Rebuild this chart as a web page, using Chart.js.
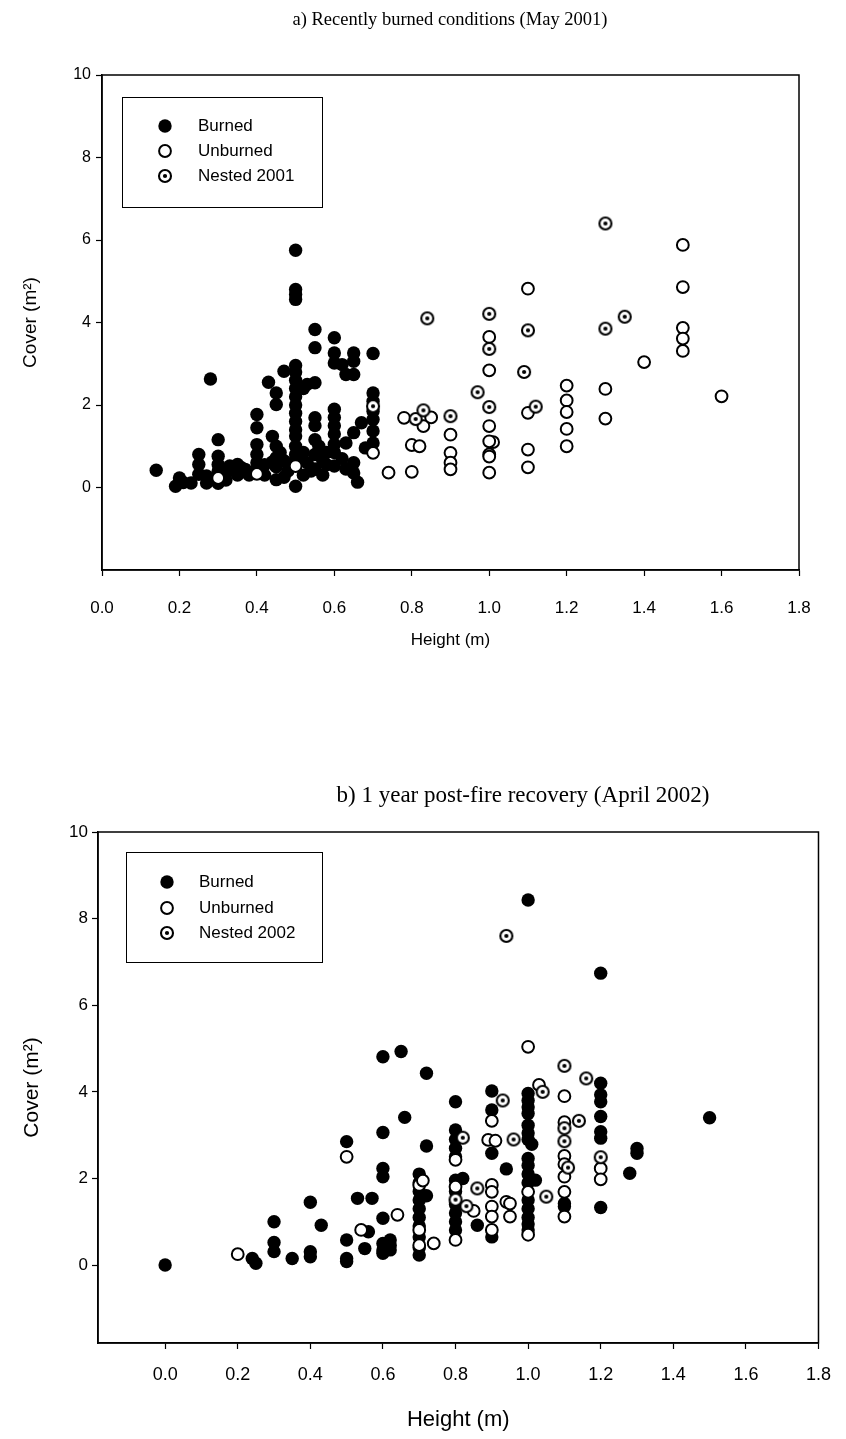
<!DOCTYPE html>
<html lang="en">
<head>
  <meta charset="UTF-8">
  <title>Cover vs height, burned and unburned plants</title>
  <script src="https://cdn.jsdelivr.net/npm/chart.js"></script>
  <style>
    body { margin: 0; background: #fff; }
    canvas { position: absolute; left: 0; }
    #chartA { top: 0; }
    #chartB { top: 690px; }
  </style>
</head>
<body>
  <canvas id="chartA" width="846" height="690"></canvas>
  <canvas id="chartB" width="846" height="749"></canvas>

  <script>
    // ---- data: [height (m), cover (m2)] ----
    const burned2001 = [
      [0.14,0.42],[0.19,0.03],[0.20,0.23],[0.21,0.12],[0.23,0.11],
      [0.25,0.32],[0.25,0.56],[0.25,0.80],[0.27,0.11],[0.27,0.28],[0.28,2.63],
      [0.30,1.16],[0.30,0.76],[0.30,0.56],[0.30,0.40],[0.30,0.10],
      [0.32,0.36],[0.32,0.18],[0.33,0.52],[0.35,0.56],[0.35,0.30],[0.36,0.48],[0.37,0.44],[0.38,0.30],
      [0.40,1.77],[0.40,1.45],[0.40,1.04],[0.40,0.80],[0.40,0.60],[0.40,0.45],
      [0.42,0.55],[0.42,0.30],[0.43,2.55],[0.44,1.24],[0.44,0.62],[0.45,2.29],[0.45,2.01],[0.45,1.00],
      [0.45,0.72],[0.45,0.50],[0.45,0.19],[0.46,0.85],
      [0.47,2.82],[0.47,0.65],[0.47,0.25],[0.48,0.40],[0.49,0.55],
      [0.50,5.75],[0.50,4.80],[0.50,4.68],[0.50,4.56],
      [0.50,2.96],[0.50,2.80],[0.50,2.60],[0.50,2.40],[0.50,2.20],[0.50,2.00],[0.50,1.80],[0.50,1.60],
      [0.50,1.40],[0.50,1.25],[0.50,1.00],[0.50,0.80],[0.50,0.68],[0.50,0.03],
      [0.52,2.40],[0.53,2.50],[0.54,0.40],[0.52,0.85],[0.53,0.60],[0.52,0.30],
      [0.55,3.83],[0.55,3.39],[0.55,2.54],[0.55,1.69],[0.55,1.50],[0.55,1.16],[0.55,0.80],[0.55,0.45],
      [0.56,1.00],[0.57,0.65],[0.57,0.30],[0.58,0.55],[0.58,0.85],
      [0.60,3.63],[0.60,3.26],[0.60,3.02],[0.62,2.98],[0.63,2.74],[0.65,3.26],[0.65,3.06],[0.65,2.74],
      [0.60,1.90],[0.60,1.70],[0.60,1.50],[0.60,1.30],[0.60,1.05],[0.60,0.85],[0.60,0.52],
      [0.62,0.70],[0.63,0.45],[0.63,1.08],[0.65,1.33],[0.65,0.60],[0.65,0.35],[0.66,0.13],[0.67,1.57],[0.68,0.96],
      [0.70,3.25],[0.70,2.29],[0.70,2.09],[0.70,1.85],[0.70,1.65],[0.70,1.37],[0.70,1.08]
    ];
    const unburned2001 = [
      [0.30,0.23],[0.40,0.33],[0.50,0.52],[0.70,0.84],
      [0.74,0.36],[0.78,1.69],[0.80,1.03],[0.80,0.38],[0.82,1.00],[0.83,1.49],[0.85,1.70],
      [0.90,1.28],[0.90,0.84],[0.90,0.60],[0.90,0.44],
      [1.00,3.65],[1.00,2.84],[1.00,1.49],[1.01,1.10],[1.00,1.12],[1.00,0.80],[1.00,0.75],[1.00,0.36],
      [1.10,4.82],[1.10,1.81],[1.10,0.92],[1.10,0.49],
      [1.20,2.47],[1.20,2.11],[1.20,1.83],[1.20,1.42],[1.20,1.00],
      [1.30,2.39],[1.30,1.67],[1.40,3.04],
      [1.50,5.88],[1.50,4.86],[1.50,3.87],[1.50,3.61],[1.50,3.31],[1.60,2.21]
    ];
    const nested2001 = [
      [0.70,1.97],[0.81,1.66],[0.83,1.87],[0.84,4.10],[0.90,1.73],[0.97,2.31],
      [1.00,4.21],[1.00,3.36],[1.00,1.95],[1.09,2.80],[1.10,3.81],[1.12,1.96],
      [1.30,6.40],[1.30,3.85],[1.35,4.14]
    ];

    const burned2002 = [
      [0.00,0.00],[0.24,0.15],[0.25,0.04],
      [0.30,1.00],[0.30,0.52],[0.30,0.31],[0.35,0.15],
      [0.40,1.45],[0.40,0.31],[0.40,0.19],[0.43,0.92],
      [0.50,2.85],[0.50,0.58],[0.50,0.15],[0.50,0.08],
      [0.53,1.54],[0.55,0.38],[0.56,0.77],[0.57,1.54],
      [0.60,4.81],[0.60,3.06],[0.60,2.23],[0.60,2.04],[0.60,1.08],[0.60,0.50],[0.60,0.35],[0.60,0.27],
      [0.62,0.58],[0.62,0.35],[0.62,0.45],
      [0.65,4.93],[0.66,3.41],[0.72,4.43],[0.72,2.75],
      [0.70,2.10],[0.70,1.90],[0.70,1.70],[0.70,1.50],[0.70,1.30],[0.70,1.10],[0.70,0.90],[0.70,0.65],[0.70,0.40],[0.70,0.23],[0.72,1.60],
      [0.80,3.77],[0.80,3.12],[0.80,2.90],[0.80,2.70],[0.80,2.50],[0.80,1.96],[0.80,1.70],[0.80,1.40],
      [0.80,1.20],[0.80,1.00],[0.80,0.81],[0.82,2.00],[0.86,0.92],
      [0.90,4.02],[0.90,3.58],[0.90,2.58],[0.90,0.65],[0.94,2.22],
      [1.00,8.43],[1.00,3.96],[1.00,3.80],[1.00,3.65],[1.00,3.50],[1.00,3.23],[1.00,3.05],[1.00,2.90],
      [1.00,2.46],[1.00,2.30],[1.00,2.10],[1.00,1.90],[1.00,1.50],[1.00,1.30],[1.00,1.10],[1.00,0.95],[1.00,0.81],
      [1.01,2.79],[1.02,1.96],[1.10,1.42],[1.10,1.35],
      [1.20,6.74],[1.20,4.20],[1.20,3.93],[1.20,3.77],[1.20,3.43],[1.20,3.08],[1.20,2.93],[1.20,1.33],
      [1.28,2.12],[1.30,2.69],[1.30,2.58],[1.50,3.40]
    ];
    const unburned2002 = [
      [0.20,0.25],[0.50,2.50],[0.54,0.81],[0.64,1.16],
      [0.70,1.85],[0.71,1.95],[0.70,0.81],[0.70,0.46],[0.74,0.50],
      [0.80,2.43],[0.80,1.81],[0.80,0.58],[0.85,1.25],
      [0.89,2.89],[0.90,3.33],[0.90,1.85],[0.90,1.69],[0.90,1.35],[0.90,1.12],[0.90,0.81],[0.91,2.87],
      [0.94,1.46],[0.95,1.42],[0.95,1.12],
      [1.00,5.04],[1.00,1.69],[1.00,0.70],[1.03,4.16],
      [1.10,3.90],[1.10,3.30],[1.10,2.52],[1.10,2.33],[1.10,2.04],[1.10,1.69],[1.10,1.12],
      [1.20,2.23],[1.20,1.98]
    ];
    const nested2002 = [
      [0.80,1.51],[0.82,2.94],[0.83,1.36],[0.86,1.77],[0.93,3.80],[0.94,7.60],[0.96,2.90],
      [1.04,4.00],[1.05,1.58],[1.10,4.60],[1.10,3.16],[1.10,2.86],[1.11,2.25],[1.14,3.33],
      [1.16,4.31],[1.20,2.49]
    ];

    const xTicks = [0, 0.2, 0.4, 0.6, 0.8, 1.0, 1.2, 1.4, 1.6, 1.8];
    const yTicks = [0, 2, 4, 6, 8, 10];

    // ---- marker for nested plants: open circle with a dot ----
    function nestedMarker() {
      const c = document.createElement('canvas');
      c.width = 18; c.height = 18;
      const g = c.getContext('2d');
      g.beginPath(); g.arc(9, 9, 6, 0, Math.PI * 2);
      g.fillStyle = '#fff'; g.fill();
      g.lineWidth = 2.1; g.strokeStyle = '#000'; g.stroke();
      g.beginPath(); g.arc(9, 9, 2.1, 0, Math.PI * 2);
      g.fillStyle = '#000'; g.fill();
      return c;
    }
    const nestedImg = nestedMarker();

    const toPts = arr => arr.map(p => ({x: p[0], y: p[1]}));

    // frame, heading and boxed legend
    const decor = {
      id: 'decor',
      afterDraw(chart, args, o) {
        const {ctx, chartArea: a} = chart;
        ctx.save();
        ctx.strokeStyle = '#000';
        ctx.lineWidth = 1.5;
        ctx.strokeRect(a.left, a.top, a.right - a.left, a.bottom - a.top);

        ctx.fillStyle = '#000';
        ctx.font = o.headingFont;
        ctx.textAlign = 'center';
        ctx.textBaseline = 'middle';
        ctx.fillText(o.heading, o.headingX, o.headingY);

        const b = o.box;
        ctx.lineWidth = 1;
        ctx.strokeRect(b.x + 0.5, b.y + 0.5, b.w, b.h);
        ctx.font = o.legendFont;
        ctx.textAlign = 'left';
        chart.data.datasets.forEach((ds, i) => {
          const y = Math.round(b.rowY + i * b.rowGap);
          if (ds.pointStyle === 'circle') {
            ctx.beginPath();
            ctx.arc(b.markX, y, ds.pointRadius, 0, Math.PI * 2);
            ctx.fillStyle = ds.backgroundColor;
            ctx.fill();
            if (ds.borderWidth) {
              ctx.lineWidth = ds.borderWidth;
              ctx.strokeStyle = '#000';
              ctx.stroke();
            }
          } else {
            ctx.drawImage(ds.pointStyle, b.markX - 9, y - 9);
          }
          ctx.fillStyle = '#000';
          ctx.fillText(ds.label, b.textX, y);
        });
        ctx.restore();
      }
    };

    function makeChart(id, p) {
      return new Chart(document.getElementById(id), {
        type: 'scatter',
        data: {
          datasets: [
            { label: 'Burned', data: toPts(p.burned), order: 3, pointStyle: 'circle',
              pointRadius: 6.7, backgroundColor: '#000', borderColor: '#000', borderWidth: 0 },
            { label: 'Unburned', data: toPts(p.unburned), order: 2, pointStyle: 'circle',
              pointRadius: 5.9, backgroundColor: '#fff', borderColor: '#000', borderWidth: 2 },
            { label: p.nestedLabel, data: toPts(p.nested), order: 1, pointStyle: nestedImg,
              pointRadius: 6, backgroundColor: '#fff', borderColor: '#000', borderWidth: 2 }
          ]
        },
        options: {
          responsive: false,
          animation: false,
          devicePixelRatio: 1,
          layout: { padding: p.pad },
          plugins: {
            legend: { display: false },
            tooltip: { enabled: false },
            decor: p.decor
          },
          scales: {
            x: {
              type: 'linear', min: p.xMin, max: 1.8,
              afterBuildTicks: s => { s.ticks = xTicks.map(v => ({value: v})); },
              afterFit: s => { s.height = p.xAxisH; },
              grid: { drawOnChartArea: false, drawTicks: true, tickLength: 6, tickColor: '#000', tickWidth: 1.2 },
              border: { display: true, color: '#000', width: 1.5 },
              ticks: { autoSkip: false, maxRotation: 0, padding: p.xTickPad, color: '#000',
                       font: p.xTickFont, callback: v => v.toFixed(1) },
              title: { display: true, text: 'Height (m)', color: '#000', font: p.xTitleFont,
                       padding: {top: 0, bottom: 0} }
            },
            y: {
              type: 'linear', min: p.yMin, max: 10,
              afterBuildTicks: s => { s.ticks = yTicks.map(v => ({value: v})); },
              afterFit: s => { s.width = p.yAxisW; },
              grid: { drawOnChartArea: false, drawTicks: true, tickLength: 6, tickColor: '#000', tickWidth: 1.2 },
              border: { display: true, color: '#000', width: 1.5 },
              ticks: { autoSkip: false, padding: p.yTickPad, color: '#000', font: p.yTickFont,
                       callback: v => String(v) },
              title: { display: true, text: 'Cover (m²)', color: '#000', font: p.yTitleFont,
                       padding: {top: 0, bottom: 0} }
            }
          }
        },
        plugins: [decor]
      });
    }

    const sans = "'Liberation Sans', Arial, sans-serif";
    const serif = "'Liberation Serif', 'Times New Roman', serif";

    makeChart('chartA', {
      burned: burned2001, unburned: unburned2001, nested: nested2001, nestedLabel: 'Nested 2001',
      xMin: 0, yMin: -2,
      pad: {left: 19, top: 75, right: 47, bottom: 39},
      xAxisH: 81, yAxisW: 83, xTickPad: 22, yTickPad: 5,
      xTickFont: {family: sans, size: 17}, yTickFont: {family: sans, size: 16},
      xTitleFont: {family: sans, size: 17}, yTitleFont: {family: sans, size: 19},
      decor: {
        heading: 'a) Recently burned conditions (May 2001)', headingX: 450, headingY: 20,
        headingFont: "18.5px " + serif, legendFont: "17px " + sans,
        box: {x: 122, y: 97, w: 200, h: 110, markX: 165, textX: 198, rowY: 126, rowGap: 25}
      }
    });

    makeChart('chartB', {
      burned: burned2002, unburned: unburned2002, nested: nested2002, nestedLabel: 'Nested 2002',
      xMin: -0.185, yMin: -1.8,
      pad: {left: 20, top: 142, right: 18, bottom: 6},
      xAxisH: 90, yAxisW: 78, xTickPad: 15, yTickPad: 4,
      xTickFont: {family: sans, size: 18}, yTickFont: {family: sans, size: 17},
      xTitleFont: {family: sans, size: 22}, yTitleFont: {family: sans, size: 21},
      decor: {
        heading: 'b) 1 year post-fire recovery (April 2002)', headingX: 523, headingY: 106,
        headingFont: "23px " + serif, legendFont: "17px " + sans,
        box: {x: 126, y: 162, w: 196, h: 110, markX: 167, textX: 199, rowY: 192, rowGap: 25.5}
      }
    });
  </script>
</body>
</html>
